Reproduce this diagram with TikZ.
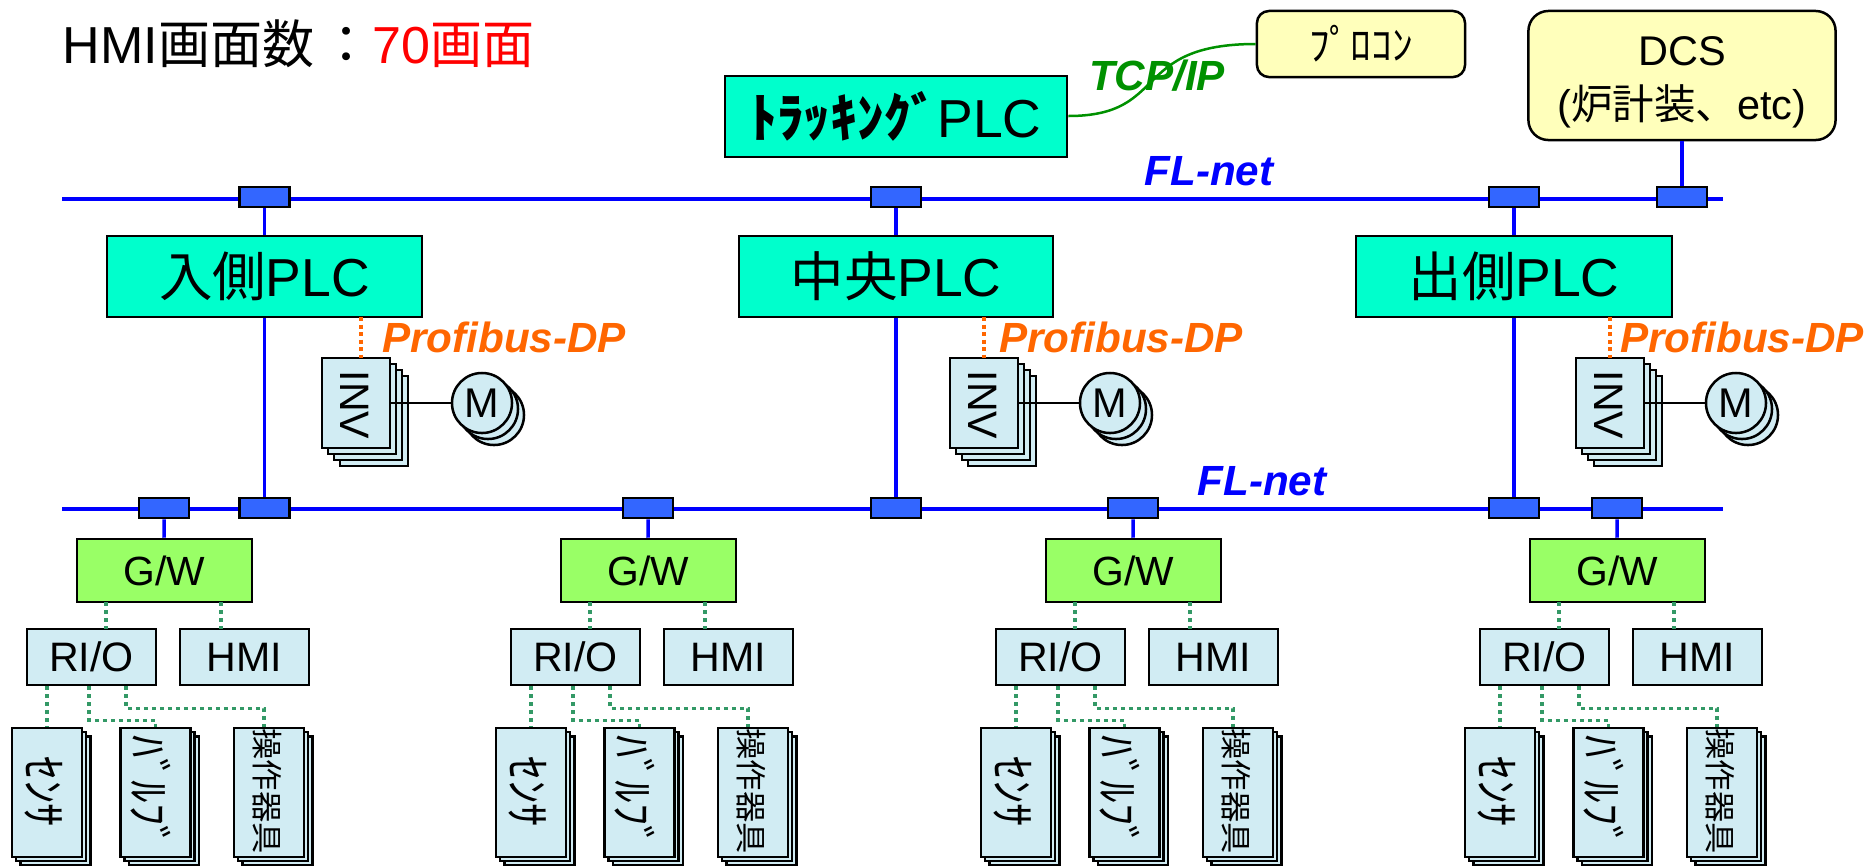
\documentclass[tikz,border=0pt]{standalone}
\usepackage{fontspec}
\setmainfont{Liberation Sans}
\newfontfamily\cjk{Noto Sans CJK JP}
\definecolor{plcgreen}{HTML}{00FFCC}
\definecolor{gwgreen}{HTML}{99FF66}
\definecolor{tapblue}{HTML}{3366FF}
\definecolor{iceblue}{HTML}{D1ECF3}
\definecolor{paleyellow}{HTML}{FFFFBB}
\definecolor{dotgreen}{HTML}{339966}
\definecolor{profiorange}{HTML}{FF6600}
\definecolor{tcpgreen}{HTML}{009100}
\tikzset{
  edged/.style={draw=black,line width=0.025cm,inner sep=0pt},
  plcbox/.style={edged,fill=plcgreen,minimum height=0.81cm,font=\fontsize{15.2}{18}\selectfont},
  ctrlbox/.style={edged,fill=paleyellow,rounded corners=0.12cm,align=center,font=\fontsize{11.8}{15.2}\selectfont},
  tapbox/.style={edged,fill=tapblue,minimum width=0.5cm,minimum height=0.2cm},
  gwbox/.style={edged,fill=gwgreen,minimum width=1.75cm,minimum height=0.63cm,font=\fontsize{11.6}{14}\selectfont},
  iobox/.style={edged,fill=iceblue,minimum width=1.29cm,minimum height=0.56cm,font=\fontsize{11.7}{14}\selectfont},
  invbox/.style={edged,fill=iceblue,minimum width=0.68cm,minimum height=0.9cm},
  fieldbox/.style={edged,fill=iceblue,minimum width=0.7cm,minimum height=1.29cm},
  motor/.style={edged,fill=iceblue,circle,minimum size=0.6cm,font=\fontsize{11.8}{14}\selectfont},
  sidetext/.style={rotate=-90,inner sep=0pt,font=\fontsize{11.7}{14}\selectfont},
  netname/.style={inner sep=0pt,font=\fontsize{12}{14}\selectfont\bfseries\itshape},
  busline/.style={draw=blue,line width=0.035cm},
  dpline/.style={draw=profiorange,line width=0.035cm,dash pattern=on 0.04cm off 0.035cm},
  ioline/.style={draw=dotgreen,line width=0.035cm,dash pattern=on 0.04cm off 0.04cm}
}
\begin{document}
\begin{tikzpicture}[x=0.01cm,y=-0.01cm]
\useasboundingbox (0,0) rectangle (1868,866);
\node[anchor=base west,inner sep=0pt,font=\fontsize{14.8}{17}\selectfont] (title) at (62,63)
  {HMI{\cjk 画面数\hspace{0.06cm}：}\textcolor{red}{70{\cjk 画面}}};
\coordinate (busas) at (62,199);
\coordinate (busae) at (1723,199);
\coordinate (busbs) at (62,509);
\coordinate (busbe) at (1723,509);
\draw[busline] (busas) -- (busae);
\draw[busline] (busbs) -- (busbe);
\node[plcbox,minimum width=3.42cm] (track) at (896,116.5) {{\cjk\bfseries ﾄﾗｯｷﾝｸﾞ}PLC};
\node[ctrlbox,minimum width=2.08cm,minimum height=0.66cm] (plant) at (1361,44) {\cjk ﾌﾟﾛｺﾝ};
\node[ctrlbox,minimum width=3.07cm,minimum height=1.29cm,rounded corners=0.2cm] (dcs) at (1682,75.5)
  {\rule{0pt}{12pt}DCS\\({\cjk 炉計装、}etc)};
\draw[tcpgreen,line width=0.025cm] (track.east |- 0,116) .. controls (1170,116) and (1130,44) .. (plant.west);
\node[netname,text=tcpgreen] (tcp) at (1157,76) {TCP/IP};
\node[netname,text=blue] (neta) at (1209,171) {FL-net};
\node[netname,text=blue] (netb) at (1262,481) {FL-net};
\foreach \n/\px/\w/\lab/\ix/\dot/\pb in {in/264.5/3.15/入側/322/361/504,mid/896/3.14/中央/950/984/1121,out/1514/3.16/出側/1576/1610/1742}{
  \node[tapbox] (tapa\n) at (\px,197) {};
  \node[tapbox] (tapb\n) at (\px,508) {};
  \node[plcbox,minimum width=\w cm] (plc\n) at (\px,276.5) {{\cjk\lab}PLC};
  \draw[busline] (tapa\n) -- (plc\n);
  \draw[busline] (plc\n) -- (tapb\n);
  \foreach \k in {3,2,1}{
    \node[invbox] (inv\n\k) at (\ix+34+\k*6,403+\k*6) {};
  }
  \node[invbox] (inv\n) at (\ix+34,403) {};
  \node[sidetext] (invtxt\n) at (\ix+33,405) {INV};
  \draw[dpline] (\dot,317) -- (\dot,358);
  \node[netname,text=profiorange] (prof\n) at (\pb,337) {Profibus-DP};
  \foreach \k in {2,1}{
    \node[motor] (mot\n\k) at (\ix+160+\k*6,403+\k*6) {};
  }
  \node[motor] (mot\n) at (\ix+160,403) {M};
  \draw[line width=0.025cm] (inv\n.east) -- (mot\n.west);
}
\node[tapbox] (tapadcs) at (1682,197) {};
\draw[busline] (dcs) -- (tapadcs);
\foreach \i/\dx in {1/0,2/484,3/969,4/1453}{
  \node[tapbox] (tapg\i) at (164+\dx,508) {};
  \node[gwbox] (gw\i) at (164.5+\dx,570.5) {G/W};
  \draw[busline] (tapg\i) -- (gw\i);
  \node[iobox] (rio\i) at (91.5+\dx,657) {RI/O};
  \node[iobox] (hmi\i) at (244.5+\dx,657) {HMI};
  \draw[ioline] (106+\dx,602) -- (106+\dx,629);
  \draw[ioline] (221+\dx,602) -- (221+\dx,629);
  \foreach \n/\cx in {ssr/47,val/155.5,ops/269}{
    \foreach \k in {2,1}{
      \node[fieldbox] (\n\i\k) at (\cx+\dx+\k*4.2,792.5+\k*4.2) {};
    }
    \node[fieldbox] (\n\i) at (\cx+\dx,792.5) {};
  }
  \node[sidetext,font=\fontsize{13.4}{16}\selectfont] (ssrtxt\i) at (44+\dx,792) {\cjk ｾﾝｻ};
  \node[sidetext,font=\fontsize{12.8}{15}\selectfont] (valtxt\i) at (151+\dx,792) {\cjk ﾊﾞﾙﾌﾞ};
  \node[sidetext,font=\fontsize{8.9}{10}\selectfont] (opstxt\i) at (267+\dx,791) {\cjk 操作器具};
  \draw[ioline] (rio\i.south west -| ssr\i.north) -- (ssr\i.north);
  \draw[ioline] ([xshift=0.63cm]rio\i.south west) -- ++(0,34) -| (val\i.north);
  \draw[ioline] ([xshift=1cm]rio\i.south west) -- ++(0,22) -| ([xshift=-0.05cm]ops\i.north);
}
\end{tikzpicture}
\end{document}
